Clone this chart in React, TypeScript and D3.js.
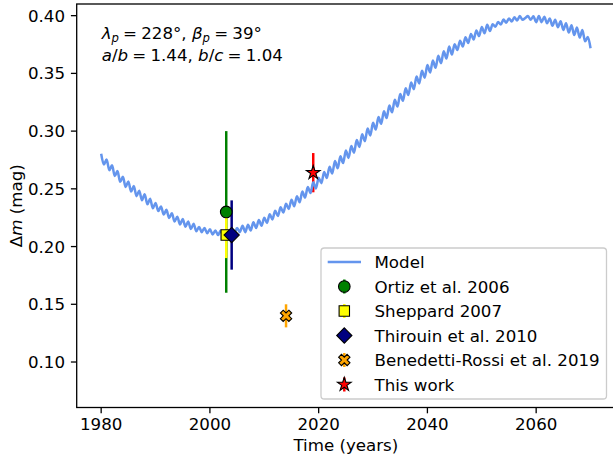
import { useEffect, useRef } from 'react';
import * as d3 from 'd3';

const WIDTH = 613;
const HEIGHT = 459;

// Model lightcurve amplitude, sampled every half year from 1980 to 2070
const MODEL_START = 1980;
const MODEL_STEP = 0.5;
const MODEL_VALUES = [
  0.2804, 0.2711, 0.2754, 0.2661, 0.2704, 0.2611, 0.2654, 0.2561, 0.2604, 0.2516,
  0.2564, 0.2476, 0.2524, 0.2436, 0.2484, 0.2401, 0.2454, 0.2366, 0.2414, 0.2331,
  0.2378, 0.2307, 0.2348, 0.2277, 0.2318, 0.2247, 0.2288, 0.2217, 0.2258, 0.2192,
  0.2238, 0.2172, 0.2218, 0.2152, 0.2198, 0.2132, 0.2170, 0.2125, 0.2160, 0.2115,
  0.2150, 0.2105, 0.2140, 0.2100, 0.2140, 0.2100, 0.2140, 0.2105, 0.2150, 0.2115,
  0.2160, 0.2125, 0.2180, 0.2125, 0.2190, 0.2140, 0.2210, 0.2160, 0.2230, 0.2180,
  0.2250, 0.2205, 0.2280, 0.2235, 0.2310, 0.2265, 0.2340, 0.2295, 0.2370, 0.2325,
  0.2406, 0.2349, 0.2436, 0.2384, 0.2476, 0.2424, 0.2516, 0.2464, 0.2556, 0.2504,
  0.2596, 0.2549, 0.2646, 0.2594, 0.2692, 0.2633, 0.2742, 0.2678, 0.2782, 0.2723,
  0.2832, 0.2768, 0.2872, 0.2813, 0.2922, 0.2863, 0.2972, 0.2913, 0.3022, 0.2963,
  0.3072, 0.3013, 0.3122, 0.3063, 0.3172, 0.3113, 0.3222, 0.3163, 0.3272, 0.3213,
  0.3322, 0.3263, 0.3372, 0.3313, 0.3422, 0.3363, 0.3472, 0.3413, 0.3522, 0.3463,
  0.3572, 0.3508, 0.3612, 0.3548, 0.3652, 0.3588, 0.3692, 0.3628, 0.3732, 0.3663,
  0.3752, 0.3703, 0.3782, 0.3733, 0.3812, 0.3763, 0.3842, 0.3793, 0.3872, 0.3823,
  0.3902, 0.3848, 0.3922, 0.3868, 0.3926, 0.3904, 0.3946, 0.3924, 0.3966, 0.3939,
  0.3976, 0.3949, 0.3986, 0.3959, 0.3996, 0.3964, 0.3980, 0.3996, 0.3964, 0.3995,
  0.3944, 0.3996, 0.3944, 0.3991, 0.3934, 0.3976, 0.3912, 0.3965, 0.3900, 0.3952,
  0.3876, 0.3934, 0.3854, 0.3916, 0.3832, 0.3898, 0.3810, 0.3875, 0.3778, 0.3815,
  0.3718,
];

// Observations
const OBS_LABELS = [
  'Ortiz et al. 2006',
  'Sheppard 2007',
  'Thirouin et al. 2010',
  'Benedetti-Rossi et al. 2019',
  'This work',
];
const OBS_YEARS = [2003, 2003, 2004, 2014, 2019];
const OBS_VALUES = [0.23, 0.21, 0.21, 0.14, 0.264];
const OBS_ERRORS = [0.07, 0.02, 0.03, 0.01, 0.017];

const OBS_COLORS = ['#008000', '#ffff00', '#000080', '#ffa500', '#ff0000'];
const OBS_MARKERS = ['circle', 'square', 'diamond', 'x', 'star'];

const X_TICKS = [1980, 2000, 2020, 2040, 2060];
const Y_TICKS = [0.1, 0.15, 0.2, 0.25, 0.3, 0.35, 0.4];

const FONT = '"DejaVu Sans", Verdana, sans-serif';
const FS = 16.67;
const MSP = '\u2005'; // narrower space, like mathtext's spacing around "="

function markerPath(type: string): string {
  const p = d3.path();
  if (type === 'circle') {
    p.arc(0, 0, 5.8, 0, Math.PI * 2);
    p.closePath();
  } else if (type === 'square') {
    p.rect(-5.2, -5.2, 10.4, 10.4);
  } else if (type === 'diamond') {
    p.moveTo(0, -7.6);
    p.lineTo(7.6, 0);
    p.lineTo(0, 7.6);
    p.lineTo(-7.6, 0);
    p.closePath();
  } else if (type === 'x') {
    const verts = [[-1, -3], [1, -3], [1, -1], [3, -1], [3, 1], [1, 1], [1, 3], [-1, 3], [-1, 1], [-3, 1], [-3, -1], [-1, -1]];
    const s = 12 / 6;
    const c = Math.SQRT1_2;
    verts.forEach(([vx, vy], i) => {
      const x = vx * s, y = vy * s;
      const rx = (x - y) * c, ry = (x + y) * c;
      if (i === 0) p.moveTo(rx, ry); else p.lineTo(rx, ry);
    });
    p.closePath();
  } else if (type === 'star') {
    const R = 7.2, r = 7.2 * 0.381966;
    for (let i = 0; i < 10; i++) {
      const a = -Math.PI / 2 + (i * Math.PI) / 5;
      const rad = i % 2 === 0 ? R : r;
      if (i === 0) p.moveTo(rad * Math.cos(a), rad * Math.sin(a));
      else p.lineTo(rad * Math.cos(a), rad * Math.sin(a));
    }
    p.closePath();
  }
  return p.toString();
}

type Seg = { t: string; it?: boolean; sub?: boolean };

export default function App() {
  const svgRef = useRef<SVGSVGElement>(null);

  useEffect(() => {
    if (!svgRef.current) return;
    const svg = d3.select(svgRef.current);
    svg.selectAll('*').remove();

    const left = 76.7, right = 615, top = 4, bottom = 407.5;
    const tickLen = 5.8;

    const x = d3.scaleLinear().domain([1975.5, 2074.5]).range([left, right]);
    const y = d3.scaleLinear().domain([0.0606, 0.4101]).range([bottom, top]);

    // Error bars sit below everything else
    OBS_YEARS.forEach((yr, i) => {
      svg.append('line')
        .attr('x1', x(yr)).attr('x2', x(yr))
        .attr('y1', y(OBS_VALUES[i] - OBS_ERRORS[i]))
        .attr('y2', y(OBS_VALUES[i] + OBS_ERRORS[i]))
        .attr('stroke', OBS_COLORS[i])
        .attr('stroke-width', 2.5);
    });

    // Model curve
    const line = d3.line<number>()
      .x((_, i) => x(MODEL_START + i * MODEL_STEP))
      .y((d) => y(d))
      .curve(d3.curveMonotoneX);

    svg.append('path')
      .attr('d', line(MODEL_VALUES) || '')
      .attr('fill', 'none')
      .attr('stroke', '#6495ed')
      .attr('stroke-width', 2.5)
      .attr('stroke-linejoin', 'round');

    // Markers
    OBS_YEARS.forEach((yr, i) => {
      svg.append('path')
        .attr('d', markerPath(OBS_MARKERS[i]))
        .attr('transform', `translate(${x(yr)},${y(OBS_VALUES[i])})`)
        .attr('fill', OBS_COLORS[i])
        .attr('stroke', '#000')
        .attr('stroke-width', 1.1);
    });

    // Spines
    svg.append('rect')
      .attr('x', left).attr('y', top)
      .attr('width', right - left).attr('height', bottom - top)
      .attr('fill', 'none')
      .attr('stroke', '#000').attr('stroke-width', 1.3);

    // X axis ticks
    X_TICKS.forEach((t) => {
      svg.append('line')
        .attr('x1', x(t)).attr('x2', x(t))
        .attr('y1', bottom).attr('y2', bottom + tickLen)
        .attr('stroke', '#000').attr('stroke-width', 1.3);
      svg.append('text')
        .attr('x', x(t)).attr('y', 430)
        .attr('text-anchor', 'middle')
        .attr('font-family', FONT).attr('font-size', FS)
        .attr('fill', '#000')
        .text(String(t));
    });

    // Y axis ticks
    Y_TICKS.forEach((t) => {
      svg.append('line')
        .attr('x1', left - tickLen).attr('x2', left)
        .attr('y1', y(t)).attr('y2', y(t))
        .attr('stroke', '#000').attr('stroke-width', 1.3);
      svg.append('text')
        .attr('x', 65).attr('y', y(t) + 6)
        .attr('text-anchor', 'end')
        .attr('font-family', FONT).attr('font-size', FS)
        .attr('fill', '#000')
        .text(t.toFixed(2));
    });

    // Axis labels
    svg.append('text')
      .attr('x', (left + right) / 2).attr('y', 451)
      .attr('text-anchor', 'middle')
      .attr('font-family', FONT).attr('font-size', FS)
      .text('Time (years)');

    const yl = svg.append('text')
      .attr('transform', `translate(22,${(top + bottom) / 2}) rotate(-90)`)
      .attr('text-anchor', 'middle')
      .attr('font-family', FONT).attr('font-size', FS);
    yl.append('tspan').text('Δ');
    yl.append('tspan').attr('font-style', 'italic').text('m');
    yl.append('tspan').text(' (mag)');

    // Annotation
    const writeMath = (segs: Seg[], tx: number, ty: number) => {
      const txt = svg.append('text')
        .attr('x', tx).attr('y', ty)
        .attr('font-family', FONT).attr('font-size', FS)
        .attr('fill', '#000');
      let shifted = false;
      segs.forEach((s) => {
        const ts = txt.append('tspan').text(s.t);
        if (s.it) ts.attr('font-style', 'italic');
        if (s.sub) {
          ts.attr('font-size', FS * 0.7);
          if (!shifted) { ts.attr('dy', 3.5); shifted = true; }
        } else if (shifted) {
          ts.attr('dy', -3.5);
          shifted = false;
        }
      });
    };

    writeMath([
      { t: 'λ', it: true }, { t: 'p', it: true, sub: true },
      { t: `${MSP}=${MSP}228°, ` },
      { t: 'β', it: true }, { t: 'p', it: true, sub: true },
      { t: `${MSP}=${MSP}39°` },
    ], 101.7, 38.5);

    writeMath([
      { t: 'a', it: true }, { t: '/' }, { t: 'b', it: true },
      { t: `${MSP}=${MSP}1.44, ` },
      { t: 'b', it: true }, { t: '/' }, { t: 'c', it: true },
      { t: `${MSP}=${MSP}1.04` },
    ], 101.7, 60.5);

    // Legend
    const lg = svg.append('g');
    lg.append('rect')
      .attr('x', 321).attr('y', 248)
      .attr('width', 285.5).attr('height', 151)
      .attr('rx', 3.3)
      .attr('fill', '#fff').attr('fill-opacity', 0.8)
      .attr('stroke', '#cccccc').attr('stroke-width', 1.3);

    const rows = [262, 286.5, 311, 335.5, 360, 384.5];
    const hx = 344.3;
    lg.append('line')
      .attr('x1', 327.7).attr('x2', 361)
      .attr('y1', rows[0]).attr('y2', rows[0])
      .attr('stroke', '#6495ed').attr('stroke-width', 2.5);
    lg.append('text')
      .attr('x', 374.5).attr('y', rows[0] + 6)
      .attr('font-family', FONT).attr('font-size', FS)
      .text('Model');

    OBS_LABELS.forEach((label, i) => {
      const ry = rows[i + 1];
      lg.append('line')
        .attr('x1', hx).attr('x2', hx)
        .attr('y1', ry - 7).attr('y2', ry + 7)
        .attr('stroke', OBS_COLORS[i]).attr('stroke-width', 2.5);
      lg.append('path')
        .attr('d', markerPath(OBS_MARKERS[i]))
        .attr('transform', `translate(${hx},${ry})`)
        .attr('fill', OBS_COLORS[i])
        .attr('stroke', '#000').attr('stroke-width', 1.1);
      lg.append('text')
        .attr('x', 374.5).attr('y', ry + 6)
        .attr('font-family', FONT).attr('font-size', FS)
        .text(label);
    });
  }, []);

  return (
    <div style={{ position: 'absolute', left: 0, top: 0 }}>
      <svg ref={svgRef} width={WIDTH} height={HEIGHT} viewBox={`0 0 ${WIDTH} ${HEIGHT}`} style={{ display: 'block', background: '#fff' }} />
    </div>
  );
}
